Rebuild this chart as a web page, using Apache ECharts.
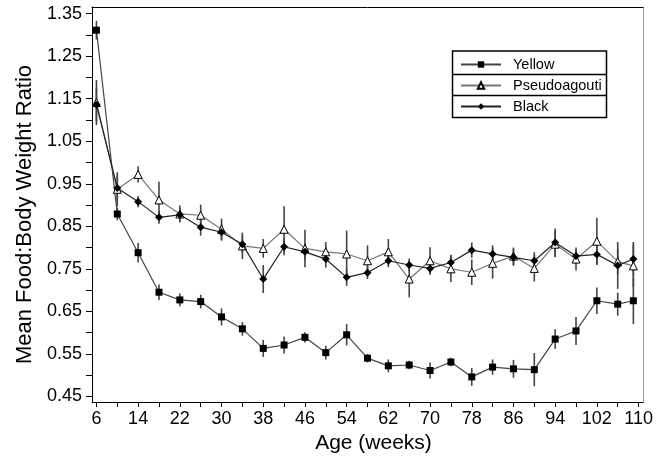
<!DOCTYPE html>
<html>
<head>
<meta charset="utf-8">
<script src="https://cdn.jsdelivr.net/npm/echarts@6/dist/echarts.min.js"></script>
<style>
    html, body {margin: 0; padding: 0; background: #fff;}
    #chart {width: 661px; height: 457px;}
</style>
</head>
<body>
<div id="chart"></div>
<script>
var weeks = [6, 10, 14, 18, 22, 26, 30, 34, 38, 42, 46, 50, 54, 58, 62, 66, 70, 74, 78, 82, 86, 90, 94, 98, 102, 106, 109];

var yellowMean = [1.311, 0.879, 0.788, 0.695, 0.677, 0.673, 0.637, 0.609, 0.563, 0.571, 0.589, 0.553, 0.595, 0.540,
    0.522, 0.524, 0.511, 0.531, 0.496, 0.519, 0.515, 0.513, 0.585, 0.604, 0.675, 0.667, 0.675];
var yellowErr = [0.022, 0.015, 0.023, 0.018, 0.015, 0.016, 0.020, 0.016, 0.020, 0.020, 0.012, 0.016, 0.025, 0.010,
    0.015, 0.010, 0.019, 0.010, 0.021, 0.018, 0.021, 0.039, 0.023, 0.033, 0.031, 0.027, 0.055];

var pseudoMean = [1.141, 0.937, 0.972, 0.912, 0.879, 0.876, 0.843, 0.804, 0.798, 0.843, 0.798, 0.790, 0.785, 0.769,
    0.790, 0.726, 0.769, 0.750, 0.742, 0.763, 0.780, 0.751, 0.808, 0.773, 0.815, 0.767, 0.757];
var pseudoErr = [0.053, 0.040, 0.019, 0.043, 0.020, 0.025, 0.025, 0.031, 0.022, 0.054, 0.044, 0.023, 0.055, 0.036,
    0.030, 0.043, 0.032, 0.031, 0.030, 0.036, 0.020, 0.031, 0.031, 0.027, 0.055, 0.030, 0.050];

var blackMean = [1.136, 0.940, 0.908, 0.871, 0.877, 0.848, 0.836, 0.808, 0.726, 0.802, 0.790, 0.773, 0.730, 0.741,
    0.769, 0.759, 0.751, 0.765, 0.794, 0.785, 0.777, 0.769, 0.812, 0.780, 0.784, 0.758, 0.773];
var blackErr = [0.040, 0.030, 0.013, 0.015, 0.015, 0.020, 0.020, 0.020, 0.033, 0.020, 0.020, 0.020, 0.020, 0.015,
    0.015, 0.015, 0.015, 0.018, 0.018, 0.020, 0.020, 0.020, 0.033, 0.015, 0.025, 0.055, 0.040];

var xTickValues = [6, 10, 14, 18, 22, 26, 30, 34, 38, 42, 46, 50, 54, 58, 62, 66, 70, 74, 78, 82, 86, 90, 94, 98, 102, 106, 110];
var xLabelValues = [6, 14, 22, 30, 38, 46, 54, 62, 70, 78, 86, 94, 102, 110];
var yTickValues = [0.45, 0.50, 0.55, 0.60, 0.65, 0.70, 0.75, 0.80, 0.85, 0.90, 0.95, 1.00, 1.05, 1.10, 1.15, 1.20, 1.25, 1.30, 1.35];
var yLabelValues = [0.45, 0.55, 0.65, 0.75, 0.85, 0.95, 1.05, 1.15, 1.25, 1.35];

var font = '"Liberation Sans", Arial, sans-serif';

function points(mean) {
    return weeks.map(function (w, i) {
        return [w, mean[i]];
    });
}

function bars(mean, err) {
    return weeks.map(function (w, i) {
        return [w, mean[i] - err[i], mean[i] + err[i]];
    });
}

function renderBar(params, api) {
    var lo = api.coord([api.value(0), api.value(1)]);
    var hi = api.coord([api.value(0), api.value(2)]);
    return {
        type: 'line',
        shape: {x1: lo[0], y1: lo[1], x2: hi[0], y2: hi[1]},
        style: {stroke: '#444', lineWidth: 1.6}
    };
}

function errSeries(name, mean, err) {
    return {
        name: name,
        type: 'custom',
        renderItem: renderBar,
        encode: {x: 0, y: [1, 2]},
        data: bars(mean, err),
        z: 1,
        silent: true
    };
}

var chart = echarts.init(document.getElementById('chart'));
chart.setOption({
    animation: false,
    backgroundColor: '#fff',
    grid: {
        left: 92,
        right: 18,
        top: 7,
        bottom: 55,
        containLabel: false,
        outerBoundsMode: 'none'
    },
    legend: {
        data: ['Yellow', 'Pseudoagouti', 'Black'],
        orient: 'vertical',
        left: 460,
        top: 57,
        padding: 0,
        itemWidth: 40,
        itemHeight: 8,
        itemGap: 6,
        selectedMode: false,
        textStyle: {
            fontFamily: font,
            fontSize: 14.5,
            color: '#000',
            padding: [0, 0, 0, 7]
        }
    },
    graphic: [
        {
            type: 'rect',
            shape: {x: 452.5, y: 51, width: 154, height: 66.5},
            style: {fill: 'none', stroke: '#000', lineWidth: 1.5}
        },
        {
            type: 'line',
            shape: {x1: 452.5, y1: 74.5, x2: 606.5, y2: 74.5},
            style: {stroke: '#000', lineWidth: 1.5}
        },
        {
            type: 'line',
            shape: {x1: 452.5, y1: 95.5, x2: 606.5, y2: 95.5},
            style: {stroke: '#000', lineWidth: 1.5}
        }
    ],
    xAxis: [
        {
            type: 'value',
            min: 5.15,
            max: 110.85,
            position: 'bottom',
            axisLine: {lineStyle: {color: '#000', width: 1}},
            axisTick: {customValues: xTickValues, length: 5, lineStyle: {color: '#000'}},
            axisLabel: {
                customValues: xLabelValues,
                fontFamily: font,
                fontSize: 18,
                color: '#000',
                margin: 8
            },
            splitLine: {show: false},
            name: 'Age (weeks)',
            nameLocation: 'middle',
            nameGap: 28,
            nameTextStyle: {fontFamily: font, fontSize: 21, color: '#000', padding: [0, 0, 0, 12]}
        },
        {
            type: 'value',
            min: 5.15,
            max: 110.85,
            position: 'top',
            axisLine: {lineStyle: {color: '#000', width: 1}},
            axisTick: {show: false},
            axisLabel: {show: false},
            splitLine: {show: false}
        }
    ],
    yAxis: [
        {
            type: 'value',
            min: 0.437,
            max: 1.3655,
            position: 'left',
            axisLine: {show: true, lineStyle: {color: '#000', width: 1}},
            axisTick: {show: true, customValues: yTickValues, length: 6, lineStyle: {color: '#000'}},
            axisLabel: {
                customValues: yLabelValues,
                formatter: function (v) {
                    return v.toFixed(2);
                },
                fontFamily: font,
                fontSize: 18,
                color: '#000',
                margin: 10
            },
            splitLine: {show: false},
            name: 'Mean Food:Body Weight Ratio',
            nameLocation: 'middle',
            nameGap: 56,
            nameTextStyle: {fontFamily: font, fontSize: 22, color: '#000', padding: [0, 20, 0, 0]}
        },
        {
            type: 'value',
            min: 0.437,
            max: 1.3655,
            position: 'right',
            axisLine: {show: true, lineStyle: {color: '#999', width: 1}},
            axisTick: {show: false},
            axisLabel: {show: false},
            splitLine: {show: false}
        }
    ],
    series: [
        errSeries('Yellow error', yellowMean, yellowErr),
        errSeries('Pseudoagouti error', pseudoMean, pseudoErr),
        errSeries('Black error', blackMean, blackErr),
        {
            name: 'Yellow',
            type: 'line',
            data: points(yellowMean),
            symbol: 'rect',
            symbolSize: 7,
            itemStyle: {color: '#000'},
            lineStyle: {color: '#444', width: 1.2},
            emphasis: {disabled: true},
            z: 3
        },
        {
            name: 'Pseudoagouti',
            type: 'line',
            data: points(pseudoMean),
            symbol: 'triangle',
            symbolSize: 8,
            itemStyle: {color: '#fff', borderColor: '#000', borderWidth: 1},
            lineStyle: {color: '#777', width: 1.2},
            emphasis: {disabled: true},
            z: 3
        },
        {
            name: 'Black',
            type: 'line',
            data: points(blackMean),
            symbol: 'diamond',
            symbolSize: 8,
            itemStyle: {color: '#000'},
            lineStyle: {color: '#222', width: 1.2},
            emphasis: {disabled: true},
            z: 4
        }
    ]
});
</script>
</body>
</html>
